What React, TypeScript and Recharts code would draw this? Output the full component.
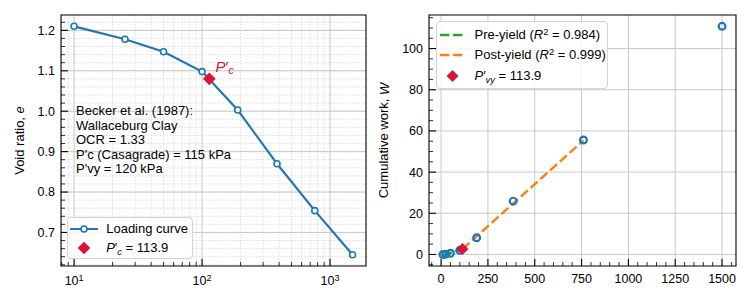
import React from "react";
import {
  ComposedChart,
  Line,
  Scatter,
  XAxis,
  YAxis,
  CartesianGrid,
  ReferenceArea,
  Legend,
} from "recharts";

const FONT = "'Liberation Sans', Arial, Helvetica, sans-serif";
const BLUE = "#1f77b4";
const RED = "#dc143c";
const GREEN = "#2ca02c";
const ORANGE = "#ff7f0e";

// Oedometer loading stages (kPa)
const pressure = [10, 25, 50, 100, 190, 385, 760, 1500];
const voidRatio = [1.21, 1.178, 1.147, 1.098, 1.003, 0.87, 0.754, 0.645];
const cumWork = [0, 0.15, 0.6, 2.0, 8.1, 25.9, 55.6, 110.8];

// yield estimates
const pcValue = 113.9;
const pcVoid = 1.08;
const pvyWork = 2.6;

// bilinear fit end points
const preYieldP = [10, 100];
const preYieldW = [-0.4, 2.2];
const postYieldP = [113.9, 760];
const postYieldW = [2.6, 55.4];

const annotation = [
  "Becker et al. (1987):",
  "Wallaceburg Clay",
  "OCR = 1.33",
  "P'c (Casagrade) = 115 kPa",
  "P'vy = 120 kPa",
];

// axis ticks
const logMajor = [10, 100, 1000];
const logMinor = [8, 9, 20, 30, 40, 50, 60, 70, 80, 90, 200, 300, 400, 500, 600, 700, 800, 900];
const eMajor = [0.7, 0.8, 0.9, 1.0, 1.1, 1.2];
const pMajor = [0, 250, 500, 750, 1000, 1250, 1500];
const wMajor = [0, 20, 40, 60, 80, 100];

const steps = (from: number, to: number, step: number) => {
  const out: number[] = [];
  for (let v = from; v <= to + 1e-9; v += step) out.push(+v.toFixed(4));
  return out;
};
const eMinor = steps(0.62, 1.22, 0.02);
const pMinor = steps(-50, 1550, 50);
const wMinor = steps(-5, 115, 5);

const merge = (a: number[], b: number[]) =>
  Array.from(new Set([...a, ...b].map((v) => +v.toFixed(4)))).sort((x, y) => x - y);

const loading = pressure.map((p, i) => ({ p, e: voidRatio[i] }));
const work = pressure.map((p, i) => ({ p, w: cumWork[i] }));
const preYield = preYieldP.map((p, i) => ({ p, w: preYieldW[i] }));
const postYield = postYieldP.map((p, i) => ({ p, w: postYieldW[i] }));

const E_DOMAIN: [number, number] = [0.617, 1.238];
const LOGP_DOMAIN: [number, number] = [7.9, 1910];
const P_DOMAIN: [number, number] = [-64.5, 1574.5];
const W_DOMAIN: [number, number] = [-5.6, 116.3];

const GAP = 6;
const TICK_FONT = 12.5;
const TEXT_FONT = 13;
const isMajor = (v: number, majors: number[]) => majors.some((m) => Math.abs(m - v) < 1e-6);

function BottomTick(props: any) {
  const { x, y, payload, majors, log } = props;
  const axisY = y - GAP;
  const major = isMajor(payload.value, majors);
  let label: React.ReactNode = null;
  if (major) {
    label = log ? (
      <text x={x} y={axisY + 19} textAnchor="middle" fontFamily={FONT} fontSize={TICK_FONT} fill="#000">
        <tspan>10</tspan>
        <tspan dy={-4.5} fontSize={9}>
          {Math.round(Math.log10(payload.value))}
        </tspan>
      </text>
    ) : (
      <text x={x} y={axisY + 17} textAnchor="middle" fontFamily={FONT} fontSize={TICK_FONT} fill="#000">
        {payload.value}
      </text>
    );
  }
  return (
    <g>
      <line x1={x} x2={x} y1={axisY} y2={axisY - (major ? 7 : 4)} stroke="#000" strokeWidth={major ? 1.1 : 0.8} />
      {label}
    </g>
  );
}

function LeftTick(props: any) {
  const { x, y, payload, majors, digits } = props;
  const axisX = x + GAP;
  const major = isMajor(payload.value, majors);
  return (
    <g>
      <line x1={axisX} x2={axisX + (major ? 7 : 4)} y1={y} y2={y} stroke="#000" strokeWidth={major ? 1.1 : 0.8} />
      {major && (
        <text x={axisX - 6} y={y + 4.4} textAnchor="end" fontFamily={FONT} fontSize={TICK_FONT} fill="#000">
          {payload.value.toFixed(digits)}
        </text>
      )}
    </g>
  );
}

function Diamond({ cx, cy, r }: { cx: number; cy: number; r: number }) {
  return <polygon points={`${cx},${cy - r} ${cx + r},${cy} ${cx},${cy + r} ${cx - r},${cy}`} fill={RED} />;
}

function PcMarker(props: any) {
  const { cx, cy } = props;
  return (
    <g>
      <Diamond cx={cx} cy={cy} r={6.4} />
      <text x={cx + 6.3} y={cy - 7} fontFamily={FONT} fontSize={15} fill={RED}>
        <tspan fontStyle="italic">P</tspan>
        <tspan>′</tspan>
        <tspan fontStyle="italic" fontSize={10.5} dy={2.5}>
          c
        </tspan>
      </text>
    </g>
  );
}

function PvyMarker(props: any) {
  return <Diamond cx={props.cx} cy={props.cy} r={6} />;
}

function HollowCircle(props: any) {
  return <circle cx={props.cx} cy={props.cy} r={3.4} fill="none" stroke={BLUE} strokeWidth={2.2} />;
}

const legendBox: React.CSSProperties = {
  position: "relative",
  width: "100%",
  height: "100%",
  boxSizing: "border-box",
  border: "1.5px solid #d4d4d4",
  borderRadius: 4,
  background: "rgba(255,255,255,0.85)",
  fontFamily: FONT,
  fontSize: TEXT_FONT,
  color: "#000",
};

const sub: React.CSSProperties = { fontSize: "0.72em", position: "relative", top: "0.3em" };
const sup: React.CSSProperties = { fontSize: "0.72em", position: "relative", top: "-0.45em" };

function LegendRow({ center, handle, textLeft, children }: any) {
  return (
    <div style={{ position: "absolute", left: 0, top: center - 10, height: 20, width: "100%" }}>
      {handle}
      <span style={{ position: "absolute", left: textLeft, top: 0, lineHeight: "20px", whiteSpace: "nowrap" }}>
        {children}
      </span>
    </div>
  );
}

function handleSvg(left: number, width: number, body: React.ReactNode) {
  return (
    <svg width={width} height={20} style={{ position: "absolute", left, top: 0 }}>
      {body}
    </svg>
  );
}

function LoadingLegend() {
  return (
    <div style={legendBox}>
      <LegendRow
        center={11.6}
        textLeft={38.5}
        handle={handleSvg(
          2,
          28,
          <g>
            <line x1={0} x2={28} y1={10} y2={10} stroke={BLUE} strokeWidth={2} />
            <circle cx={14} cy={10} r={3} fill="#fff" stroke={BLUE} strokeWidth={1.6} />
          </g>
        )}
      >
        Loading curve
      </LegendRow>
      <LegendRow center={30.6} textLeft={38.5} handle={handleSvg(2, 28, <Diamond cx={14} cy={10} r={6.3} />)}>
        <i>P</i>′<i style={sub}>c</i> = 113.9
      </LegendRow>
    </div>
  );
}

function WorkLegend() {
  const dash = (color: string) => (
    <line x1={0} x2={25} y1={10} y2={10} stroke={color} strokeWidth={2.5} strokeDasharray="9.3 3.8" />
  );
  return (
    <div style={legendBox}>
      <LegendRow center={13.3} textLeft={38} handle={handleSvg(3.5, 25, dash(GREEN))}>
        Pre-yield (<i>R</i>
        <span style={sup}>2</span> = 0.984)
      </LegendRow>
      <LegendRow center={33.6} textLeft={38} handle={handleSvg(3.5, 25, dash(ORANGE))}>
        Post-yield (<i>R</i>
        <span style={sup}>2</span> = 0.999)
      </LegendRow>
      <LegendRow center={54.3} textLeft={38} handle={handleSvg(3.5, 25, <Diamond cx={12.5} cy={10} r={6} />)}>
        <i>P</i>′<i style={sub}>vy</i> = 113.9
      </LegendRow>
    </div>
  );
}

function LoadingPanel() {
  return (
    <ComposedChart width={375} height={303} margin={{ top: 15, right: 9, bottom: 0, left: 0 }}>
      <CartesianGrid verticalValues={logMinor} horizontalValues={eMinor} stroke="#d6d6d6" strokeWidth={0.8} strokeDasharray="1.5 1.5" />
      <CartesianGrid verticalValues={logMajor} horizontalValues={eMajor} stroke="#c8c8c8" strokeWidth={1} />
      <XAxis
        dataKey="p"
        type="number"
        scale="log"
        domain={LOGP_DOMAIN}
        allowDataOverflow
        ticks={merge(logMajor, logMinor)}
        interval={0}
        height={37}
        axisLine={false}
        tickLine={false}
        tickSize={0}
        tickMargin={GAP}
        tick={(p: any) => <BottomTick {...p} majors={logMajor} log />}
      />
      <YAxis
        dataKey="e"
        type="number"
        domain={E_DOMAIN}
        allowDataOverflow
        ticks={merge(eMajor, eMinor)}
        interval={0}
        width={61}
        axisLine={false}
        tickLine={false}
        tickSize={0}
        tickMargin={GAP}
        tick={(p: any) => <LeftTick {...p} majors={eMajor} digits={1} />}
      />
      <ReferenceArea x1={LOGP_DOMAIN[0]} x2={LOGP_DOMAIN[1]} y1={E_DOMAIN[0]} y2={E_DOMAIN[1]} fill="none" stroke="#000" strokeWidth={1.1} />
      <Line
        data={loading}
        dataKey="e"
        type="linear"
        stroke={BLUE}
        strokeWidth={2.2}
        dot={{ r: 3, fill: "#fff", stroke: BLUE, strokeWidth: 1.6 }}
        isAnimationActive={false}
      />
      <Scatter data={[{ p: pcValue, e: pcVoid }]} dataKey="e" shape={PcMarker} isAnimationActive={false} />
      <Legend
        layout="horizontal"
        verticalAlign="middle"
        align="center"
        content={() => <LoadingLegend />}
        wrapperStyle={{ left: 66.7, top: 216.7, width: 126, height: 42.6 }}
      />
    </ComposedChart>
  );
}

function WorkPanel() {
  return (
    <ComposedChart width={376} height={303} margin={{ top: 15, right: 15, bottom: 0, left: 0 }}>
      <CartesianGrid verticalValues={pMajor} horizontalValues={wMajor} stroke="#c8c8c8" strokeWidth={1} />
      <XAxis
        dataKey="p"
        type="number"
        domain={P_DOMAIN}
        allowDataOverflow
        ticks={merge(pMajor, pMinor)}
        interval={0}
        height={37}
        axisLine={false}
        tickLine={false}
        tickSize={0}
        tickMargin={GAP}
        tick={(p: any) => <BottomTick {...p} majors={pMajor} />}
      />
      <YAxis
        dataKey="w"
        type="number"
        domain={W_DOMAIN}
        allowDataOverflow
        ticks={merge(wMajor, wMinor)}
        interval={0}
        width={54}
        axisLine={false}
        tickLine={false}
        tickSize={0}
        tickMargin={GAP}
        tick={(p: any) => <LeftTick {...p} majors={wMajor} digits={0} />}
      />
      <ReferenceArea x1={P_DOMAIN[0]} x2={P_DOMAIN[1]} y1={W_DOMAIN[0]} y2={W_DOMAIN[1]} fill="none" stroke="#000" strokeWidth={1.1} />
      <Scatter data={work} dataKey="w" shape={HollowCircle} isAnimationActive={false} />
      <Line data={preYield} dataKey="w" type="linear" stroke={GREEN} strokeWidth={2.5} strokeDasharray="9.3 3.8" dot={false} isAnimationActive={false} />
      <Line data={postYield} dataKey="w" type="linear" stroke={ORANGE} strokeWidth={2.5} strokeDasharray="9.3 3.8" dot={false} isAnimationActive={false} />
      <Scatter data={[{ p: pcValue, w: pvyWork }]} dataKey="w" shape={PvyMarker} isAnimationActive={false} />
      <Legend
        layout="horizontal"
        verticalAlign="middle"
        align="center"
        content={() => <WorkLegend />}
        wrapperStyle={{ left: 60.5, top: 20.7, width: 172, height: 68.6 }}
      />
    </ComposedChart>
  );
}

export default function App() {
  return (
    <div style={{ position: "absolute", left: 0, top: 0, width: 751, height: 303, background: "#fff" }}>
      <div style={{ position: "absolute", left: 0, top: 0 }}>
        <LoadingPanel />
      </div>
      <div style={{ position: "absolute", left: 375, top: 0 }}>
        <WorkPanel />
      </div>
      {/* axis titles and the source note */}
      <svg width={751} height={303} style={{ position: "absolute", left: 0, top: 0, pointerEvents: "none" }}>
        <text
          transform="rotate(-90 19 140.5)"
          x={19}
          y={140.5}
          textAnchor="middle"
          dominantBaseline="central"
          fontFamily={FONT}
          fontSize={TEXT_FONT}
          fill="#000"
        >
          Void ratio, <tspan fontStyle="italic">e</tspan>
        </text>
        <text
          transform="rotate(-90 383.5 140.5)"
          x={383.5}
          y={140.5}
          textAnchor="middle"
          dominantBaseline="central"
          fontFamily={FONT}
          fontSize={TEXT_FONT}
          fill="#000"
        >
          Cumulative work, <tspan fontStyle="italic">W</tspan>
        </text>
        {annotation.map((line, i) => (
          <text key={line} x={76} y={115 + i * 14.6} fontFamily={FONT} fontSize={TEXT_FONT} fill="#000">
            {line}
          </text>
        ))}
      </svg>
    </div>
  );
}
